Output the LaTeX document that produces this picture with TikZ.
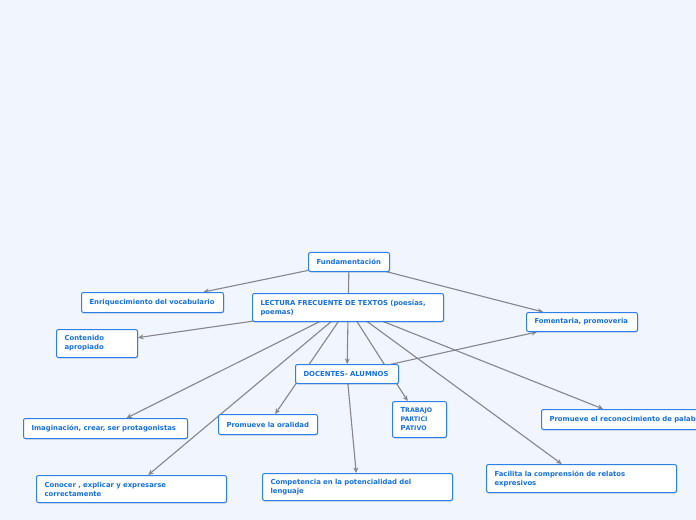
\documentclass[tikz,border=0pt]{standalone}
\usepackage{fontspec}
\newfontfamily\boxfont{DejaVu Sans}
\usetikzlibrary{arrows.meta,shadows,backgrounds}
\definecolor{bg}{RGB}{241,245,253}
\definecolor{boxblue}{RGB}{44,128,230}
\definecolor{txtblue}{RGB}{20,112,226}
\definecolor{linegray}{RGB}{132,134,140}
\newcommand\fakesc[2]{#1{\fontsize{6.3}{9}\selectfont #2}}
\begin{document}
\begin{tikzpicture}[x=1bp,y=-1bp,
  box/.style={draw=boxblue, line width=1bp, fill=white, rounded corners=2bp,
    inner xsep=8bp, inner ysep=1bp, anchor=north west, align=left,
    font=\boxfont\bfseries\fontsize{6.9}{9}\selectfont, text=txtblue,
    drop shadow={shadow xshift=0.6bp, shadow yshift=-0.9bp, opacity=0.22, fill=black}},
  conn/.style={draw=linegray, line width=1.1bp, -{Stealth[length=5.5bp,width=5bp]}}]
\useasboundingbox (0,0) rectangle (696,520);
\clip (0,0) rectangle (696,520);
\node[box, minimum width=81bp, minimum height=19bp, text width=65bp] (fund) at (308,252) {\mbox{Fundamentación}};
\node[box, minimum width=191bp, minimum height=28bp, text width=175bp] (lect) at (252,293) {\mbox{LECTURA FRECUENTE DE TEXTOS (poesías,}\\poemas)};
\node[box, minimum width=142bp, minimum height=20bp, text width=126bp] (enr) at (81,292) {\mbox{Enriquecimiento del vocabulario}};
\node[box, minimum width=81bp, minimum height=28bp, text width=65bp] (cont) at (56,329) {Contenido\\apropiado};
\node[box, minimum width=111bp, minimum height=19bp, text width=95bp] (fom) at (526,312) {\mbox{Fomentaria, promoveria}};
\node[box, minimum width=103bp, minimum height=19bp, text width=87bp] (doc) at (295,364) {\mbox{DOCENTES- ALUMNOS}};
\node[box, minimum width=164bp, minimum height=20bp, text width=148bp] (ima) at (23,418) {\mbox{Imaginación, crear, ser protagonistas}};
\node[box, minimum width=99bp, minimum height=20bp, text width=83bp] (ora) at (218,414) {\mbox{Promueve la oralidad}};
\node[box, minimum width=54bp, minimum height=36bp, text width=38bp] (tra) at (392,401) {\mbox{\fakesc{T}{RABAJO}}\\\mbox{\fakesc{}{PARTICI}}\\\mbox{\fakesc{P}{ATIVO}}};
\node[box, minimum width=176bp, minimum height=20bp, text width=160bp] (rec) at (541,409) {\mbox{Promueve el reconocimiento de palabras}};
\node[box, minimum width=190bp, minimum height=27bp, text width=174bp] (con) at (36,475) {\mbox{Conocer , explicar y expresarse}\\correctamente};
\node[box, minimum width=190bp, minimum height=27bp, text width=174bp] (com) at (262,473) {\mbox{Competencia en la potencialidad del}\\lenguaje};
\node[box, minimum width=190bp, minimum height=28bp, text width=174bp] (fac) at (486,464) {\mbox{Facilita la comprensión de relatos}\\expresivos};
\begin{scope}[on background layer]
\fill[bg] (0,0) rectangle (696,520);
\draw[conn] (fund.center) -- (enr);
\draw[conn] (fund.center) -- (fom);
\draw[conn] (fund.center) -- (doc);
\draw[conn] (lect.center) -- (cont);
\draw[conn] (lect.center) -- (ima);
\draw[conn] (lect.center) -- (con);
\draw[conn] (lect.center) -- (ora);
\draw[conn] (lect.center) -- (tra);
\draw[conn] (lect.center) -- (fac);
\draw[conn] (lect.center) -- (rec);
\draw[conn] (doc.center) -- (com);
\draw[conn] (doc.center) -- (fom);
\end{scope}
\end{tikzpicture}
\end{document}
